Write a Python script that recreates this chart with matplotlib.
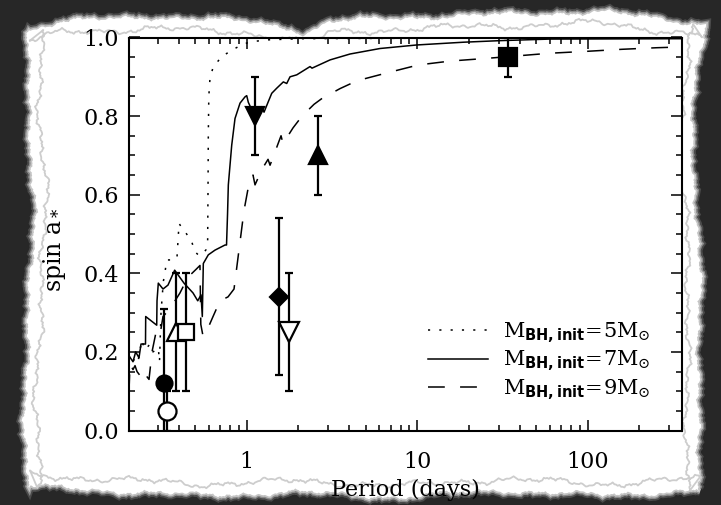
import numpy as np
import matplotlib.pyplot as plt
from matplotlib.patches import Polygon
from matplotlib.ticker import FixedLocator, FixedFormatter, MultipleLocator, NullFormatter

plt.rcParams['font.family'] = 'DejaVu Serif'
plt.rcParams['mathtext.fontset'] = 'custom'
plt.rcParams['mathtext.rm'] = 'DejaVu Serif'
plt.rcParams['mathtext.it'] = 'DejaVu Serif:italic'
plt.rcParams['mathtext.bf'] = 'DejaVu Sans:bold'

# model tracks: orbital period (days) vs. final spin, for three initial BH masses
p_5 = [0.204, 0.2125, 0.2213, 0.2304, 0.2422, 0.2532, 0.271, 0.2821, 0.303, 0.308,
       0.3143, 0.3243, 0.332, 0.3395, 0.380, 0.390, 0.401, 0.4173, 0.435, 0.476,
       0.497, 0.5252, 0.556, 0.5771, 0.590, 0.5931, 0.5953, 0.5993, 0.609, 0.637,
       0.714, 0.817, 0.935, 1.046, 1.334, 2.054, 7.93, 357.0]
a_5 = [0.19, 0.17, 0.185, 0.175, 0.23, 0.205, 0.22, 0.20, 0.21, 0.175,
       0.30, 0.379, 0.404, 0.434, 0.434, 0.44, 0.527, 0.515, 0.506, 0.48,
       0.455, 0.445, 0.451, 0.46, 0.48, 0.62, 0.75, 0.85, 0.897, 0.926,
       0.951, 0.968, 0.981, 0.989, 0.994, 0.997, 0.998, 0.999]

p_7 = [0.204, 0.2153, 0.2232, 0.2335, 0.2399, 0.2549, 0.2556, 0.2966, 0.2978, 0.303,
       0.3229, 0.3454, 0.378, 0.4287, 0.4842, 0.5161, 0.5395, 0.549, 0.5565, 0.5953,
       0.6517, 0.746, 0.7613, 0.7717, 0.7801, 0.8166, 0.8538, 0.9136, 0.9773, 1.0,
       1.0218, 1.0742, 1.1338, 1.2246, 1.2634, 1.3389, 1.4018, 1.4997, 1.6394, 1.7165,
       1.7947, 1.9651, 2.3511, 2.4155, 3.0814, 4.0357, 6.0508, 9.93, 18.64, 30.59,
       60.09, 357.0]
a_7 = [0.19, 0.175, 0.20, 0.185, 0.22, 0.22, 0.29, 0.268, 0.33, 0.375,
       0.36, 0.37, 0.408, 0.375, 0.35, 0.33, 0.345, 0.29, 0.425, 0.447,
       0.459, 0.472, 0.472, 0.55, 0.625, 0.726, 0.794, 0.833, 0.849, 0.852,
       0.835, 0.815, 0.82, 0.824, 0.81, 0.837, 0.858, 0.871, 0.887, 0.883,
       0.9, 0.905, 0.926, 0.922, 0.943, 0.958, 0.972, 0.981, 0.988, 0.992,
       0.996, 0.997]

p_9 = [0.204, 0.2068, 0.2153, 0.2213, 0.2273, 0.2366, 0.2464, 0.2567, 0.2673, 0.2783,
       0.2938, 0.309, 0.3229, 0.355, 0.406, 0.452, 0.5043, 0.532, 0.538, 0.5543,
       0.5852, 0.6345, 0.697, 0.7768, 0.8424, 0.8891, 0.9259, 0.9642, 1.0177, 1.0887,
       1.1186, 1.2294, 1.3335, 1.3701, 1.5894, 1.6328, 1.8684, 2.1103, 2.4812, 2.7646,
       3.5262, 4.4364, 5.4313, 6.6497, 10.11, 15.57, 25.67, 60.09, 100.4, 158.9,
       254.9, 357.0]
a_9 = [0.10, 0.17, 0.155, 0.165, 0.15, 0.14, 0.125, 0.14, 0.13, 0.20,
       0.25, 0.24, 0.29, 0.31, 0.35, 0.39, 0.41, 0.42, 0.27, 0.24,
       0.255, 0.29, 0.33, 0.34, 0.36, 0.44, 0.50, 0.56, 0.615, 0.65,
       0.625, 0.665, 0.69, 0.675, 0.75, 0.73, 0.77, 0.80, 0.83, 0.845,
       0.87, 0.89, 0.90, 0.91, 0.93, 0.94, 0.947, 0.96, 0.965, 0.97,
       0.974, 0.976]

# measured black hole spins
obs_period = [0.326, 0.343, 0.385, 0.441, 1.553, 1.77, 1.12, 2.63, 33.9]
obs_spin = [0.12, 0.05, 0.25, 0.25, 0.34, 0.25, 0.80, 0.70, 0.95]
obs_err = [0.19, 0.05, 0.15, 0.15, 0.20, 0.15, 0.10, 0.10, 0.05]
obs_marker = ['o', 'o', '^', 's', 'D', 'v', 'v', '^', 's']
obs_filled = [True, False, False, False, True, False, True, True, True]
obs_size = [11.5, 13, 13.5, 12, 9.5, 14, 13, 13, 13]

labels = [r'$\mathrm{M}_{\mathbf{BH,init}}\!=\!5\mathrm{M}_{\odot}$',
          r'$\mathrm{M}_{\mathbf{BH,init}}\!=\!7\mathrm{M}_{\odot}$',
          r'$\mathrm{M}_{\mathbf{BH,init}}\!=\!9\mathrm{M}_{\odot}$']

fig = plt.figure(figsize=(7.21, 5.05), dpi=100, facecolor='#272727')

# torn paper backdrop, in pixel units
bg = fig.add_axes([0, 0, 1, 1], zorder=0)
bg.set_xlim(0, 721)
bg.set_ylim(505, 0)
bg.axis('off')


def wiggle(t, amp, k):
    return amp * (1.0 * np.sin(0.047 * t + k) + 0.8 * np.sin(0.131 * t + 1.7 * k)
                  + 0.55 * np.sin(0.377 * t + 2.9 * k) + 0.35 * np.sin(0.83 * t + 4.3 * k)
                  + 0.25 * np.sin(1.91 * t + 5.1 * k))


def paper_edge(inset, amp, k):
    tx = np.linspace(30, 702, 400)
    ty = np.interp(tx, [30, 60, 150, 250, 290, 305, 330, 400, 500, 600, 700],
                   [30, 22, 17, 22, 28, 34, 22, 18, 15, 12, 24]) + inset + wiggle(tx, amp, k)
    ry = np.linspace(24, 490, 300)
    rx = np.interp(ry, [24, 60, 100, 150, 200, 300, 400, 490],
                   [705, 700, 692, 690, 696, 700, 697, 700]) - inset + wiggle(ry, amp, k + 1)
    bx = np.linspace(700, 30, 400)
    by = np.interp(bx, [30, 100, 200, 300, 400, 500, 600, 700],
                   [486, 490, 495, 492, 497, 490, 495, 490]) - inset + wiggle(bx, amp, k + 2)
    ly = np.linspace(488, 30, 300)
    lx = np.interp(ly, [30, 100, 200, 300, 400, 488],
                   [30, 28, 35, 30, 25, 28]) + inset + wiggle(ly, amp, k + 3)
    return np.column_stack([np.concatenate([tx, rx, bx, lx]),
                            np.concatenate([ty, ry, by, ly])])


edge = paper_edge(0, 1.6, 0.4)
for w, c in [(7, '#4a4a4a'), (4.5, '#8a8a8a'), (2.5, '#c4c4c4')]:
    bg.add_patch(Polygon(edge, closed=True, facecolor='none', edgecolor=c, lw=w))
bg.add_patch(Polygon(edge, closed=True, facecolor='white', edgecolor='none'))
inner = paper_edge(11, 2.0, 2.2)
bg.plot(np.append(inner[:, 0], inner[0, 0]), np.append(inner[:, 1], inner[0, 1]),
        color='#cdcdcd', lw=1.3)

ax = fig.add_axes([129 / 721, 1 - 430.5 / 505, 553 / 721, 393 / 505], zorder=1)
ax.set_facecolor('white')

l5, = ax.plot(p_5, a_5, color='black', lw=1.1, dashes=(1.4, 6))
l7, = ax.plot(p_7, a_7, color='black', lw=1.1)
l9, = ax.plot(p_9, a_9, color='black', lw=1.1, dashes=(11, 10))

for p, a, e, m, f, s in zip(obs_period, obs_spin, obs_err, obs_marker, obs_filled, obs_size):
    ax.errorbar(p, a, yerr=e, fmt='none', ecolor='black', elinewidth=1.6,
                capsize=2.6, capthick=1.6, zorder=3)
    ax.plot(p, a, marker=m, ms=s, mec='black', mew=1.6,
            mfc='black' if f else 'white', ls='none', zorder=4)

ax.set_xscale('log')
ax.set_xlim(0.204, 357)
ax.set_ylim(0, 1.0)

ax.xaxis.set_major_locator(FixedLocator([1, 10, 100]))
ax.xaxis.set_major_formatter(FixedFormatter(['1', '10', '100']))
ax.xaxis.set_minor_locator(FixedLocator([m * 10.0 ** d for d in range(-1, 3) for m in range(2, 10)]))
ax.xaxis.set_minor_formatter(NullFormatter())
ax.yaxis.set_major_locator(MultipleLocator(0.2))
ax.yaxis.set_minor_locator(MultipleLocator(0.05))
ax.yaxis.set_major_formatter(lambda v, pos: f'{v:.1f}')

ax.tick_params(which='both', direction='in', top=True, right=True, width=1.1, labelsize=16)
ax.tick_params(which='major', length=8)
ax.tick_params(which='minor', length=4.5)
ax.tick_params(axis='x', pad=15)
ax.tick_params(axis='y', pad=7)
for sp in ax.spines.values():
    sp.set_linewidth(1.5)

ax.set_xlabel('Period (days)', fontsize=16, labelpad=4)
ax.set_ylabel(r'spin a$_*$', fontsize=17)
ax.yaxis.set_label_coords(-0.11, 0.46)

ax.legend([l5, l7, l9], labels, loc='upper left', bbox_to_anchor=(0.5407, 0.279),
          frameon=False, fontsize=15, handlelength=2.9, handletextpad=0.7,
          labelspacing=0.2, borderpad=0, borderaxespad=0)

fig.savefig('out.png', dpi=100, facecolor=fig.get_facecolor())
